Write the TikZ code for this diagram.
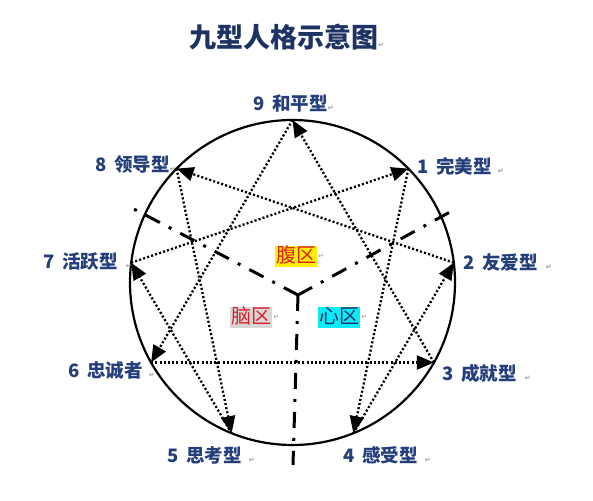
\documentclass[tikz,border=0pt]{standalone}
\usepackage{fontspec}
\newfontfamily\cjk{Noto Sans CJK SC}
\newfontfamily\djv{DejaVu Sans}
\usetikzlibrary{arrows.meta}
\definecolor{navy}{RGB}{30,50,100}
\definecolor{lblue}{RGB}{36,62,124}
\definecolor{hred}{RGB}{222,30,40}
\definecolor{hgray}{RGB}{215,215,215}
\definecolor{hcyan}{RGB}{10,235,250}
\definecolor{hyellow}{RGB}{255,240,0}
\definecolor{pmark}{RGB}{150,150,150}
\newcommand{\retmark}{{\djv\fontsize{7}{7}\selectfont\textcolor{pmark}{↵}}}
\begin{document}
\begin{tikzpicture}[x=1pt,y=-1pt,
  lbl/.style={font=\cjk\bfseries\fontsize{18.5}{20}\selectfont, text=lblue, inner sep=0pt, anchor=west},
  dotline/.style={line width=2.3pt, dash pattern=on 2.1pt off 2.1pt, -{Triangle[length=17pt,width=14pt]}},
  axisline/.style={line width=3pt, dash pattern=on 16pt off 10pt on 3pt off 10pt},
  zone/.style={font=\cjk\fontsize{20}{20}\selectfont, inner xsep=1pt, inner ysep=0pt, text height=16.5pt, text depth=4.5pt}]
\useasboundingbox (0,0) rectangle (593,500);
\fill[white] (0,0) rectangle (593,500);

% title
\node[font=\cjk\bfseries\fontsize{27}{30}\selectfont, text=navy, inner sep=0pt, anchor=west] (title) at (189,37) {九型人格示意图\retmark};

% circle
\coordinate (c) at (292.5,282.5);
\draw[line width=2.2pt] (c) circle[radius=162.5pt];

% points on circle
\coordinate (p9) at (292.5,120);
\coordinate (p1) at (408.4,168.6);
\coordinate (p2) at (453.8,262.7);
\coordinate (p3) at (433.9,362.5);
\coordinate (p4) at (353.4,433.2);
\coordinate (p5) at (231.6,433.2);
\coordinate (p6) at (151.1,362.5);
\coordinate (p7) at (131.2,262.7);
\coordinate (p8) at (176.6,168.6);

% axis lines
\coordinate (m) at (298,295);
\coordinate (aL) at (132,208);
\coordinate (aR) at (450,212);
\coordinate (aD) at (293,465);
\draw[axisline] (m) -- (aL);
\draw[axisline] (m) -- (aR);
\draw[axisline] (m) -- (aD);

% enneagram lines
\draw[dotline] (p9) -- (p6);
\draw[dotline] (p6) -- (p3);
\draw[dotline] (p3) -- (p9);
\draw[dotline] (p1) -- (p4);
\draw[dotline] (p4) -- (p2);
\draw[dotline] (p2) -- (p8);
\draw[dotline] (p8) -- (p5);
\draw[dotline] (p5) -- (p7);
\draw[dotline] (p7) -- (p1);

% labels
\node[lbl] (l9) at (253,104) {9\hspace{8pt}和平型\retmark};
\node[lbl] (l8) at (95,165) {8\hspace{8pt}领导型\retmark};
\node[lbl] (l1) at (417,166) {1\hspace{8pt}完美型\hspace{6pt}\retmark};
\node[lbl] (l2) at (463,262) {2\hspace{8pt}友爱型\hspace{8pt}\retmark};
\node[lbl] (l3) at (442,373) {3\hspace{8pt}成就型\hspace{8pt}\retmark};
\node[lbl] (l4) at (343,455) {4\hspace{8pt}感受型\hspace{7pt}\retmark};
\node[lbl] (l5) at (167,455) {5\hspace{8pt}思考型\hspace{7pt}\retmark};
\node[lbl] (l6) at (68,370) {6\hspace{8pt}忠诚者\hspace{6pt}\retmark};
\node[lbl] (l7) at (43,262) {7\hspace{8pt}活跃型\hspace{8pt}\retmark};

% zones
\node[zone, fill=hyellow, text=hred, label={[inner sep=1pt]east:\retmark}] (zf) at (296,256) {腹区};
\node[zone, fill=hgray, text=hred, label={[inner sep=1pt]east:\retmark}] (zn) at (251,317) {脑区};
\node[zone, fill=hcyan, text=navy, label={[inner sep=1pt]east:\retmark}] (zx) at (339,317) {心区};
\end{tikzpicture}
\end{document}
